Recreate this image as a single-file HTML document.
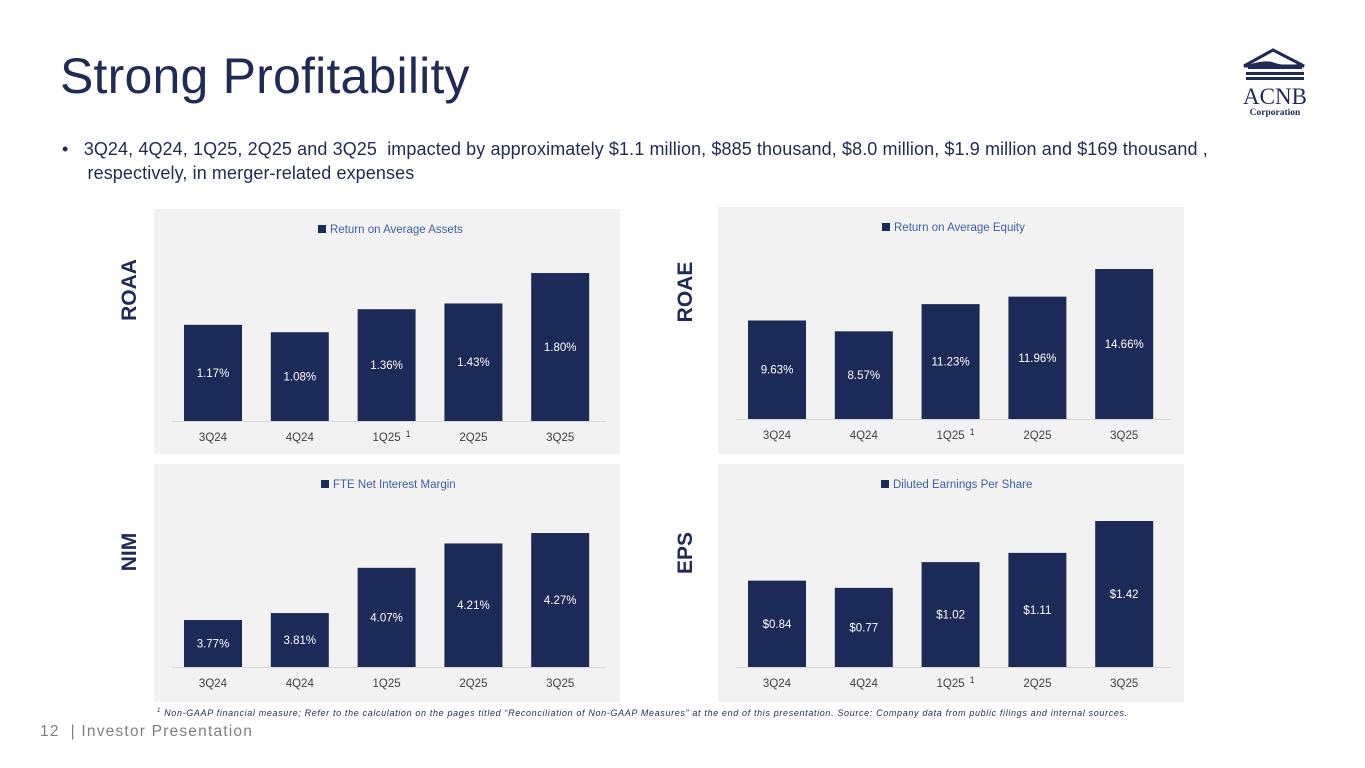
<!DOCTYPE html>
<html><head><meta charset="utf-8"><style>
body{margin:0;width:1365px;height:768px;background:#fff;font-family:"Liberation Sans",sans-serif;position:relative;overflow:hidden}
.abs{position:absolute}
h1{position:absolute;left:60px;top:47px;margin:0;font-size:50px;font-weight:normal;color:#1f2a55;letter-spacing:0.2px}
.bul{left:62px;top:137px;font-size:18px;color:#1f2a55;line-height:24px;width:1250px;letter-spacing:0.1px}
.side{font-weight:bold;font-size:21px;color:#1f2a55;transform:rotate(-90deg);transform-origin:center;width:80px;text-align:center}
</style></head><body>
<h1>Strong Profitability</h1>
<svg class="abs" style="left:1238px;top:46px" width="72" height="74">
<polygon points="6,20 35,4 66,20" fill="none" stroke="#1f2a55" stroke-width="3"/>
<path d="M10,19 Q28,13 37,17 Q50,21 64,17 L64,23 L10,23Z" fill="#1f2a55"/>
<rect x="8" y="26" width="58" height="3" fill="#1f2a55"/><rect x="8" y="31" width="58" height="3" fill="#1f2a55"/>
<text x="37" y="58" text-anchor="middle" font-family="Liberation Serif" font-size="23" fill="#1f2a55">ACNB</text>
<text x="37" y="69" text-anchor="middle" font-family="Liberation Serif" font-weight="bold" font-size="9.5" fill="#1f2a55">Corporation</text>
</svg>
<div class="abs bul">•&nbsp;&nbsp;&nbsp;3Q24, 4Q24, 1Q25, 2Q25 and 3Q25&nbsp; impacted by approximately $1.1 million, $885 thousand, $8.0 million, $1.9 million and $169 thousand ,<br>&nbsp;&nbsp;&nbsp;&nbsp;&nbsp;respectively, in merger-related expenses</div>
<div class="abs side" style="left:90px;top:278px">ROAA</div>
<div class="abs side" style="left:646px;top:280px">ROAE</div>
<div class="abs side" style="left:90px;top:540px">NIM</div>
<div class="abs side" style="left:646px;top:541px">EPS</div>
<svg id="charts" class="abs" style="left:0;top:0" width="1365" height="768"></svg>
<div class="abs" style="left:157px;top:708px;font-size:9px;letter-spacing:0.65px;font-style:italic;color:#1f2a55;white-space:nowrap"><sup style="font-size:6px">1</sup> Non-GAAP financial measure; Refer to the calculation on the pages titled “Reconciliation of Non-GAAP Measures” at the end of this presentation. Source: Company data from public filings and internal sources.</div>
<div class="abs" style="left:40px;top:723px;font-size:15.5px;letter-spacing:1.2px;color:#7f7f7f;white-space:nowrap">12&nbsp;&nbsp;| Investor Presentation</div>
<script>
const categories=["3Q24","4Q24","1Q25","2Q25","3Q25"];
const roaaValues=[1.17,1.08,1.36,1.43,1.80];
const roaaLabels=["1.17%","1.08%","1.36%","1.43%","1.80%"];
const roaeValues=[9.63,8.57,11.23,11.96,14.66];
const roaeLabels=["9.63%","8.57%","11.23%","11.96%","14.66%"];
const nimValues=[3.77,3.81,4.07,4.21,4.27];
const nimLabels=["3.77%","3.81%","4.07%","4.21%","4.27%"];
const epsValues=[0.84,0.77,1.02,1.11,1.42];
const epsLabels=["$0.84","$0.77","$1.02","$1.11","$1.42"];
const NS="http://www.w3.org/2000/svg";
const svg=document.getElementById('charts');
function mk(t,a,p){const e=document.createElementNS(NS,t);for(const k in a)e.setAttribute(k,a[k]);(p||svg).appendChild(e);return e;}
function chart(o){
  const g=mk('g',{});
  
  
  const bg=mk('rect',{x:o.x,y:o.y,width:466,height:o.h,fill:'#f2f2f2'},g);
  
  
  const ls=mk('rect',{x:o.x+o.legOff,y:o.y+16,width:8,height:8,fill:'#1b2a57'},g);
  
  
  const lt=mk('text',{x:o.x+o.legOff+12,y:o.y+24,'font-size':11.5,fill:'#3f5fa8'},g);
  lt.textContent=o.legend;
  
  
  const base=o.base;
  const yS=v=>base-(v-o.min)*o.k;
  const xC=i=>o.x+59+i*86.8;
  mk('line',{x1:o.x+18,x2:o.x+452,y1:base+0.5,y2:base+0.5,stroke:'#d9d9d9'},g);
  o.vals.forEach((v,i)=>{
    const top=yS(v);
    const b=mk('rect',{x:xC(i)-29,y:top,width:58,height:base-top,fill:'#1b2a57'},g);
    
    
    const t=mk('text',{x:xC(i),y:(top+base)/2+4,'text-anchor':'middle','font-size':11.5,fill:'#fff'},g);
    t.textContent=o.labels[i];
    
    
    const c=mk('text',{x:xC(i),y:base+20,'text-anchor':'middle','font-size':11.5,fill:'#404040'},g);
    c.textContent=categories[i];
    
    
    if(o.sup&&i===2){const s=mk('text',{x:xC(i)+19,y:base+16,'font-size':9,fill:'#404040'},g);s.textContent='1';}
  });
}
chart({name:'roaa-chart',x:154,y:209,h:245,base:421,min:0,k:82.2,vals:roaaValues,labels:roaaLabels,legend:'Return on Average Assets',legOff:164,sup:true});
chart({name:'roae-chart',x:718,y:207,h:247,base:419,min:0,k:10.23,vals:roaeValues,labels:roaeLabels,legend:'Return on Average Equity',legOff:164,sup:true});
chart({name:'nim-chart',x:154,y:464,h:238,base:667,min:3.5,k:174,vals:nimValues,labels:nimLabels,legend:'FTE Net Interest Margin',legOff:167,sup:false});
chart({name:'eps-chart',x:718,y:464,h:238,base:667,min:0,k:102.8,vals:epsValues,labels:epsLabels,legend:'Diluted Earnings Per Share',legOff:163,sup:true});
</script>
</body></html>
